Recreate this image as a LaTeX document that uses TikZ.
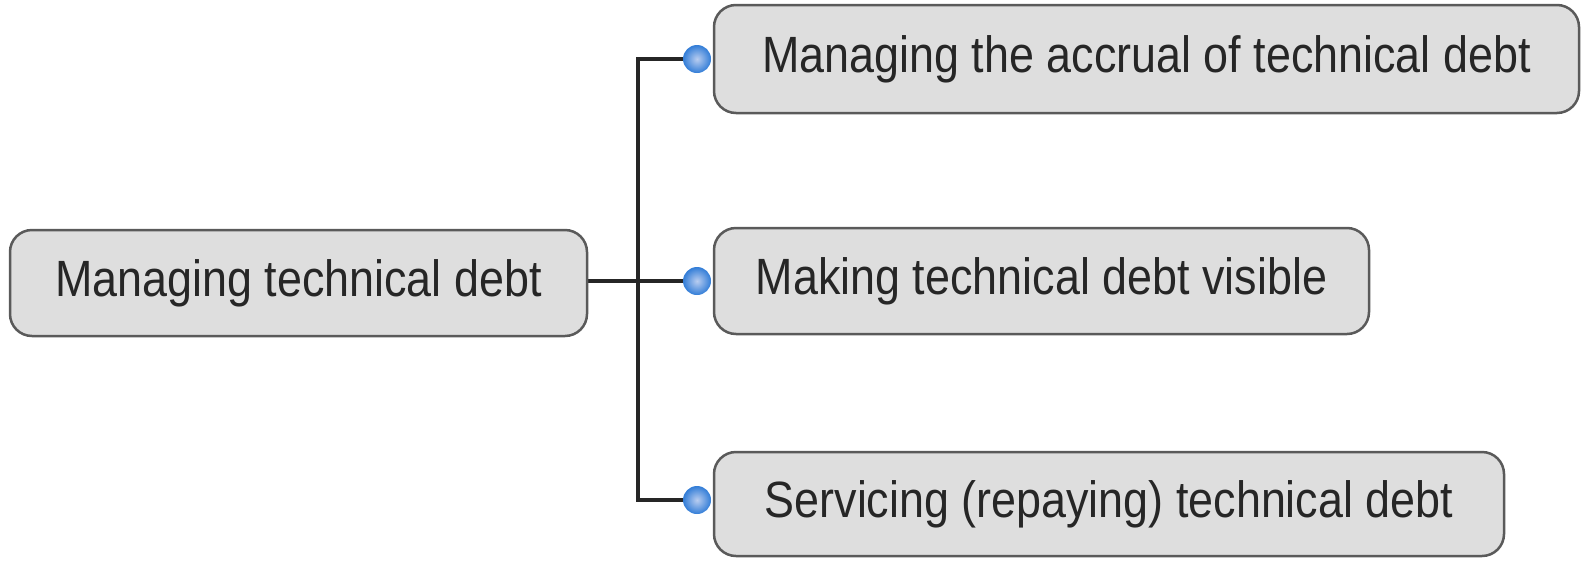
\documentclass[tikz,border=0pt]{standalone}
\usepackage{fontspec}
\setmainfont[FakeStretch=0.88]{Liberation Sans}
\usetikzlibrary{backgrounds}
\definecolor{boxfill}{RGB}{222,222,222}
\definecolor{boxline}{RGB}{90,90,90}
\definecolor{dotin}{RGB}{185,205,240}
\definecolor{dotout}{RGB}{50,125,215}
\tikzset{
  topic/.style={draw=boxline, line width=2.5pt, fill=boxfill, rounded corners=22pt,
    inner sep=0pt, font=\fontsize{51}{60}\selectfont, text=black!85},
  knob/.style={circle, shading=radial, inner color=dotin, outer color=dotout,
    minimum size=28pt, inner sep=0pt},
  link/.style={line width=4pt, black!85}
}
\begin{document}
\begin{tikzpicture}[x=1pt,y=-1pt]
\useasboundingbox (0,0) rectangle (1581,560);
\node[topic, minimum width=577pt, minimum height=106pt] (root) at (298.5,283) {Managing technical debt};
\node[topic, minimum width=865pt, minimum height=108pt] (a) at (1146.5,59) {Managing the accrual of technical debt};
\node[topic, minimum width=655pt, minimum height=106pt] (b) at (1041.5,281) {Making technical debt visible};
\node[topic, minimum width=790pt, minimum height=104pt] (c) at (1109,504) {Servicing (repaying) technical debt};
\node[knob] (da) at (697,59) {};
\node[knob] (db) at (697,281) {};
\node[knob] (dc) at (697,500) {};
\coordinate (jt) at (638,59);
\coordinate (jb) at (638,500);
\begin{scope}[on background layer]
\draw[link] (da.center) -- (jt) -- (jb) -- (dc.center);
\draw[link] (root.east |- db) -- (db.center);
\end{scope}
\end{tikzpicture}
\end{document}
